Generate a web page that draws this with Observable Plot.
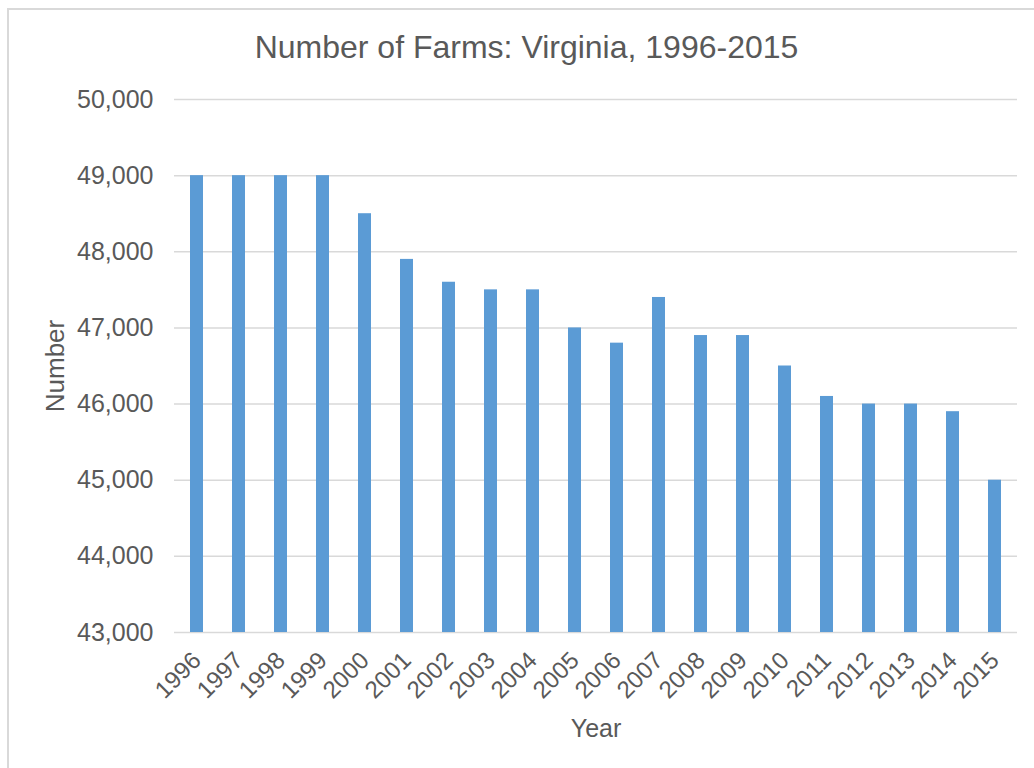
<!DOCTYPE html>
<html>
<head>
<meta charset="utf-8">
<script src="https://cdn.jsdelivr.net/npm/d3@7"></script>
<script src="https://cdn.jsdelivr.net/npm/@observablehq/plot@0.6"></script>
<style>
  html, body { margin: 0; padding: 0; background: #fff; overflow: hidden; }
  #wrap { position: relative; width: 1034px; height: 768px; overflow: hidden; }
  #border { position: absolute; left: 7px; top: 8px; width: 1040px; height: 790px; border: 2px solid #d9d9d9; box-sizing: border-box; }
  #title { position: absolute; left: 8px; width: 1037px; top: 27px; text-align: center; font-family: "Liberation Sans", Arial, sans-serif; font-size: 32px; color: #595959; line-height: 40px; }
  #chart { position: absolute; left: 0; top: 0; }
</style>
</head>
<body>
<div id="wrap">
  <div id="border"></div>
  <div id="chart"></div>
  <div id="title">Number of Farms: Virginia, 1996-2015</div>
</div>
<script>
const years = ["1996","1997","1998","1999","2000","2001","2002","2003","2004","2005","2006","2007","2008","2009","2010","2011","2012","2013","2014","2015"];
const farms = [49000,49000,49000,49000,48500,47900,47600,47500,47500,47000,46800,47400,46900,46900,46500,46100,46000,46000,45900,45000];
const yTicks = [43000,44000,45000,46000,47000,48000,49000,50000];
const xLabel = "Year";
const yLabel = "Number";

const data = years.map((year, i) => ({year, farms: farms[i]}));

const chart = Plot.plot({
  width: 1034,
  height: 768,
  marginLeft: 174,
  marginRight: 17,
  marginTop: 99,
  marginBottom: 136,
  style: {fontFamily: "'Liberation Sans', Arial, sans-serif", fontSize: "24px", color: "#595959", background: "transparent"},
  x: {type: "band", domain: years, paddingInner: 0.69, paddingOuter: 0.345},
  y: {domain: [43000, 50000]},
  marks: [
    Plot.gridY(yTicks, {stroke: "#d9d9d9", strokeOpacity: 1, strokeWidth: 1.5}),
    Plot.barY(data, {x: "year", y1: 43000, y2: "farms", fill: "#5B9BD5"}),
    Plot.axisY(yTicks, {tickSize: 0, tickPadding: 21, tickFormat: d3.format(","), fontSize: 25, label: null}),
    Plot.axisX({tickSize: 0, tickRotate: -45, tickPadding: 24, fontSize: 24, label: null}),
    Plot.text([xLabel], {frameAnchor: "bottom", dy: 104, lineAnchor: "bottom", fontSize: 25, fill: "#595959"}),
    Plot.text([yLabel], {frameAnchor: "left", dx: -119, rotate: -90, textAnchor: "middle", fontSize: 26, fill: "#595959"})
  ]
});
document.getElementById("chart").appendChild(chart);
</script>
</body>
</html>
